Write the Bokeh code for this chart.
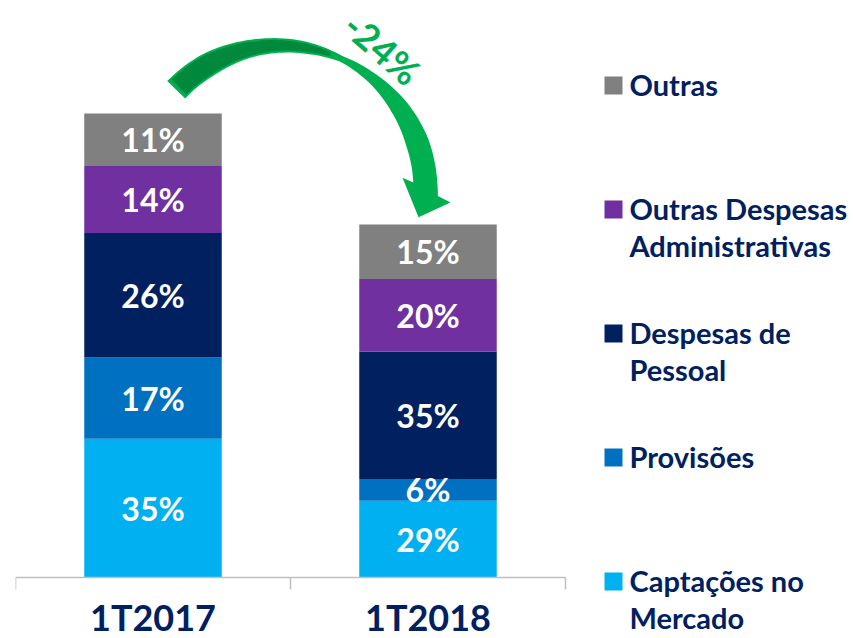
import numpy as np
from bokeh.plotting import figure
from bokeh.models import Range1d, LinearAxis, FixedTicker, ColumnDataSource, Label, BoxAnnotation
from bokeh.core.properties import value
from bokeh.embed import file_html
from bokeh.resources import INLINE

# ---------------- data ----------------
categories = ["1T2017", "1T2018"]
totals = [100, 76]            # relative total cost (1T2018 is -24% vs 1T2017)
change_label = "-24%"
series = ["Captações no Mercado", "Provisões", "Despesas de Pessoal",
          "Outras Despesas Administrativas", "Outras"]
captacoes = [35, 29]
provisoes = [17, 6]
pessoal = [26, 35]
outras_adm = [14, 20]
outras = [11, 15]
legend_lines = [["Captações no", "Mercado"], ["Provisões"], ["Despesas de", "Pessoal"],
                ["Outras Despesas", "Administrativas"], ["Outras"]]

# ---------------- style ----------------
colors = ["#00B0F0", "#0070C0", "#002060", "#7030A0", "#808080"]
NAVY = "#002060"
GREEN = "#00B050"
DARK_GREEN = "#00883C"
FONT = value("Lato")

W, H = 853, 638
FRAME_LEFT, AXIS_Y = 15.0, 577.0
XPX = 275.0
BASE = 6.0                      # value shown at the axis line (bars are cut there)
YPX = 4.784
Y_START = BASE - (H - AXIS_Y) / YPX
Y_END = BASE + AXIS_Y / YPX
X_END = (W - FRAME_LEFT) / XPX

# page-pixel -> data helpers (for decorations only)
def X(px):
    return (np.asarray(px, dtype=float) - FRAME_LEFT) / XPX
def Y(py):
    return BASE + (AXIS_Y - np.asarray(py, dtype=float)) / YPX

p = figure(width=W, height=H, x_range=Range1d(0, X_END), y_range=Range1d(Y_START, Y_END),
           output_backend="svg", toolbar_location=None,
           x_axis_location=None, y_axis_location=None,
           min_border_left=int(FRAME_LEFT), min_border_right=0, min_border_top=0, min_border_bottom=0)
p.grid.visible = False
p.outline_line_color = None
p.background_fill_color = "white"
p.border_fill_color = "white"

# ---------------- stacked bars ----------------
values = [captacoes, provisoes, pessoal, outras_adm, outras]
xpos = [i + 0.5 for i in range(len(categories))]
bx, bb, bt, bc = [], [], [], []
lx, ly, lt = [], [], []
for i in range(len(categories)):
    cum = 0.0
    for j in range(len(series)):
        h = values[j][i] * totals[i] / 100.0
        lo, hi = max(cum, BASE), cum + h
        bx.append(xpos[i]); bb.append(lo); bt.append(hi); bc.append(colors[j])
        lx.append(xpos[i]); ly.append((lo + hi) / 2.0); lt.append(f"{values[j][i]}%")
        cum += h
bars = ColumnDataSource(dict(x=bx, bottom=bb, top=bt, color=bc))
p.vbar(x="x", bottom="bottom", top="top", width=0.5, fill_color="color", line_color=None, source=bars)

p.text(x=lx, y=ly, text=lt, text_color="white", text_font=FONT, text_font_style="bold",
       text_font_size="32px", text_align="center", text_baseline="middle")

# ---------------- x axis ----------------
ax = LinearAxis(ticker=FixedTicker(ticks=xpos, minor_ticks=list(range(len(categories) + 1))),
                bounds=(0, len(categories)), fixed_location=BASE)
ax.major_label_overrides = {xpos[i]: categories[i] for i in range(len(categories))}
ax.axis_line_color = "#BFBFBF"
ax.axis_line_width = 1.5
ax.major_tick_line_color = None
ax.major_tick_out = 12
ax.major_tick_in = 0
ax.minor_tick_line_color = "#BFBFBF"
ax.minor_tick_line_width = 1.5
ax.minor_tick_out = 12
ax.minor_tick_in = 0
ax.major_label_standoff = 5
ax.major_label_text_font = "Lato"
ax.major_label_text_font_style = "bold"
ax.major_label_text_font_size = "36px"
ax.major_label_text_color = NAVY
p.add_layout(ax, "below")

# ---------------- legend (top = last series) ----------------
order = list(range(len(series)))[::-1]
for r, j in enumerate(order):
    cy = 85 + 124 * r
    p.add_layout(BoxAnnotation(left=float(X(604)), right=float(X(622)),
                               top=float(Y(cy - 9)), bottom=float(Y(cy + 9)),
                               fill_color=colors[j], fill_alpha=1.0, line_color=None,
                               level="overlay"))
    for li, line in enumerate(legend_lines[j]):
        p.add_layout(Label(x=float(X(629)), y=float(Y(cy - 1 + 37 * li)), text=line,
                           text_color=NAVY, text_font="Lato", text_font_style="bold",
                           text_font_size="29px", text_align="left", text_baseline="middle"))

# ---------------- curved arrow ----------------
cxp, cyp, R = 280.0, 190.0, 145.0
prof_a = [-2, 3, 20, 35, 50, 65, 80, 100, 120, 136]
prof_w = [25, 24, 23, 18, 11, 6, 12, 17, 24, 25]
def wid(a):
    return np.interp(a, prof_a, prof_w)
def pt(a_deg, r):
    a = np.radians(a_deg)
    return cxp + r * np.cos(a), cyp - r * np.sin(a)

outer_a = np.linspace(136, -2, 80)
inner_a = np.linspace(3.4, 136, 80)
ox, oy = pt(outer_a, R + wid(outer_a) / 2)
ix, iy = pt(inner_a, R - wid(inner_a) / 2)
hx1, hy1 = pt(-4, 170.4)
tipx, tipy = pt(-11, 140.6)
hx2, hy2 = pt(6, 122.7)
px_ = np.concatenate([ox, [hx1, tipx, hx2], ix])
py_ = np.concatenate([oy, [hy1, tipy, hy2], iy])
p.patch(X(px_), Y(py_), fill_color=GREEN, line_color=None)

# darker back face on the left part
da = np.linspace(134.5, 70, 60)
dw = wid(da) / 2 - 2.0
dox, doy = pt(da, R + dw)
dix, diy = pt(da[::-1], R - dw[::-1])
p.patch(X(np.concatenate([dox, dix])), Y(np.concatenate([doy, diy])),
        fill_color=DARK_GREEN, line_color=None)

p.text(x=[X(382)], y=[Y(48)], text=[change_label], angle=-0.72, text_color=GREEN,
       text_font=FONT, text_font_style="bold", text_font_size="37px",
       text_align="center", text_baseline="middle")

open("out.html", "w").write(file_html(p, INLINE))
